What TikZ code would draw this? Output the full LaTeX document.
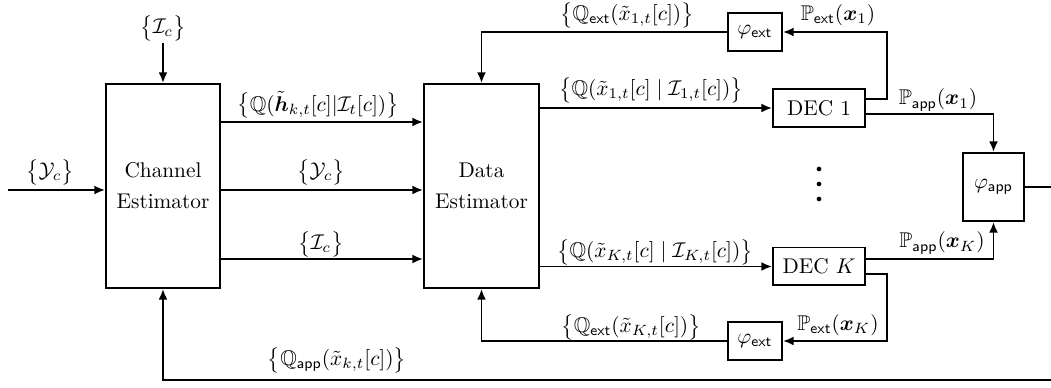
\documentclass[tikz,border=0pt]{standalone}
\usepackage{amsmath,amssymb,bm}
\usetikzlibrary{arrows.meta}
\tikzset{
  blk/.style={draw, line width=0.9pt, inner sep=0pt, align=center},
  conn/.style={line width=0.9pt, -{Latex[length=5pt,width=4.2pt]}},
  lbl/.style={inner sep=1pt}
}
\begin{document}
\begin{tikzpicture}[x=0.4695pt,y=-0.4695pt]
\useasboundingbox (0,0) rectangle (1051,388);
\clip (0,0) rectangle (1051,388);

% blocks
\node[blk, minimum width=53.5pt, minimum height=95.8pt] (CE) at (163,186) {Channel\\[2.5pt]Estimator};
\node[blk, minimum width=54pt, minimum height=95.8pt] (DE) at (481.5,186) {Data\\[2.5pt]Estimator};
\node[blk, minimum width=43.2pt, minimum height=17.8pt] (D1) at (819,108) {DEC 1};
\node[blk, minimum width=43.2pt, minimum height=17.8pt] (DK) at (819,266.5) {DEC $K$};
\node[blk, minimum width=25.4pt, minimum height=17.8pt] (E1) at (755,32) {$\varphi_{\mathsf{ext}}$};
\node[blk, minimum width=25.4pt, minimum height=17.8pt] (EK) at (755,341) {$\varphi_{\mathsf{ext}}$};
\node[blk, minimum width=28.6pt, minimum height=32pt] (A) at (993.5,187) {$\varphi_{\mathsf{app}}$};

% labels
\node[lbl] (Ict) at (163,28) {$\big\{\mathcal{I}_c\big\}$};
\node[lbl] (Yin) at (50,172) {$\big\{\mathcal{Y}_c\big\}$};
\node[lbl] (Qh) at (318,105) {$\big\{\mathbb{Q}(\tilde{\bm{h}}_{k,t}[c]|\mathcal{I}_t[c])\big\}$};
\node[lbl] (Ym) at (321,172) {$\big\{\mathcal{Y}_c\big\}$};
\node[lbl] (Im) at (321,244) {$\big\{\mathcal{I}_c\big\}$};
\node[lbl] (Qe1) at (627,15) {$\big\{\mathbb{Q}_{\mathsf{ext}}(\tilde{x}_{1,t}[c])\big\}$};
\node[lbl] (Q1) at (651,90) {$\big\{\mathbb{Q}(\tilde{x}_{1,t}[c]\mid\mathcal{I}_{1,t}[c])\big\}$};
\node[lbl] (Pe1) at (838,15) {$\mathbb{P}_{\mathsf{ext}}(\bm{x}_1)$};
\node[lbl] (Pa1) at (938,100) {$\mathbb{P}_{\mathsf{app}}(\bm{x}_1)$};
\node[lbl] (QK) at (655,252) {$\big\{\mathbb{Q}(\tilde{x}_{K,t}[c]\mid\mathcal{I}_{K,t}[c])\big\}$};
\node[lbl] (PaK) at (942,243) {$\mathbb{P}_{\mathsf{app}}(\bm{x}_K)$};
\node[lbl] (QeK) at (631,327) {$\big\{\mathbb{Q}_{\mathsf{ext}}(\tilde{x}_{K,t}[c])\big\}$};
\node[lbl] (PeK) at (838,325) {$\mathbb{P}_{\mathsf{ext}}(\bm{x}_K)$};
\node[lbl] (Qa) at (337,360) {$\big\{\mathbb{Q}_{\mathsf{app}}(\tilde{x}_{k,t}[c])\big\}$};

% helper coordinates
\coordinate (in) at (8,190);
\coordinate (y1) at (0,122);
\coordinate (y2) at (0,190);
\coordinate (y3) at (0,259);
\coordinate (t1) at (887,99);
\coordinate (a1) at (993.5,114);
\coordinate (aK) at (993.5,259);
\coordinate (tK) at (887,274);
\coordinate (r) at (1058,380);

% connectors
\draw[conn] (in) -- (CE.west |- in);
\draw[conn] (Ict.south) -- (CE.north);
\draw[conn] (CE.east |- y1) -- (DE.west |- y1);
\draw[conn] (CE.east |- y2) -- (DE.west |- y2);
\draw[conn] (CE.east |- y3) -- (DE.west |- y3);
\draw[conn] (DE.east |- D1.west) -- (D1.west);
\draw[conn] (DE.east |- DK.west) -- (DK.west);
\draw[conn] (D1.east |- t1) -- (t1) |- (E1.east);
\draw[conn] (E1.west) -| (DE.north);
\draw[conn] (D1.east |- a1) -| (A.north);
\draw[conn] (DK.east |- aK) -| (A.south);
\draw[conn] (DK.east |- tK) -- (tK) |- (EK.east);
\draw[conn] (EK.west) -| (DE.south);
\draw[conn] (A.east) -| (r) -| (CE.south);

% vertical dots
\fill (819,169) circle[radius=1.1pt];
\fill (819,184) circle[radius=1.1pt];
\fill (819,199) circle[radius=1.1pt];
\end{tikzpicture}
\end{document}
